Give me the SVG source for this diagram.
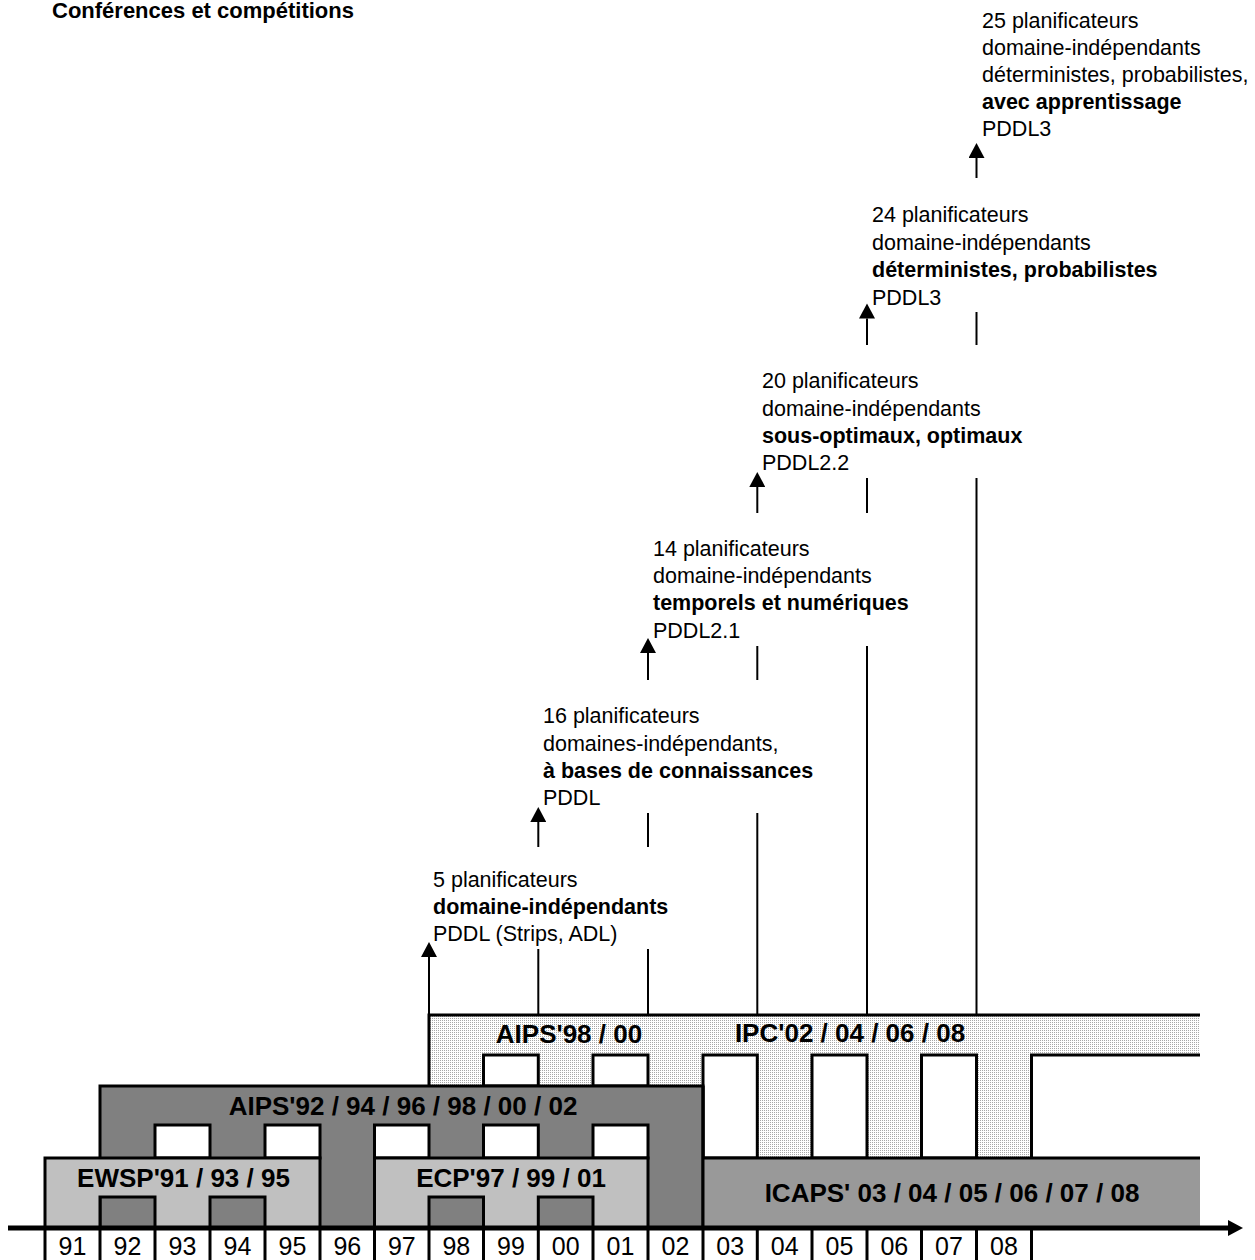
<svg xmlns="http://www.w3.org/2000/svg" width="1255" height="1260" viewBox="0 0 1255 1260">
<style>
  text { font-family: "Liberation Sans", Arial, sans-serif; fill: #000; }
  .title { font-size: 22px; font-weight: bold; }
  .ann { font-size: 21.5px; }
  .b { font-weight: bold; }
  .boxlbl { font-size: 26px; font-weight: bold; text-anchor: middle; }
  .year { font-size: 25px; text-anchor: middle; }
  .out { stroke: #000; stroke-width: 3; stroke-linejoin: miter; }
  .white { fill: #fff; }
  .conn { stroke: #000; stroke-width: 2; fill: none; }
  .cell { stroke: #000; stroke-width: 3; }
</style>
<defs>
  <pattern id="stip" width="2" height="2" patternUnits="userSpaceOnUse">
    <rect width="2" height="2" fill="#ffffff"/>
    <rect width="1" height="1" fill="#a8a8a8"/>
  </pattern>
  <marker id="up" markerUnits="userSpaceOnUse" markerWidth="16" markerHeight="16" viewBox="0 0 15 16" refX="0" refY="8" orient="auto">
    <path d="M0,0 L15,8 L0,16 Z" fill="#000"/>
  </marker>
  <marker id="axisArrow" markerUnits="userSpaceOnUse" markerWidth="16" markerHeight="16" viewBox="0 0 15 16" refX="0" refY="8" orient="auto">
    <path d="M0,0 L15,8 L0,16 Z" fill="#000"/>
  </marker>
</defs>

<text class="title" x="52" y="18">Conférences et compétitions</text>

<g id="ipc">
  <rect x="429" y="1015" width="771" height="143" fill="url(#stip)"/>
  <path class="out" d="M429,1086 V1015 H1200" fill="none"/>
  <rect class="out white" x="483.5" y="1055" width="54.8" height="31"/>
  <rect class="out white" x="593" y="1055" width="55" height="31"/>
  <rect class="out white" x="703" y="1055" width="54.3" height="103"/>
  <rect class="out white" x="812" y="1055" width="55" height="103"/>
  <rect class="out white" x="921.5" y="1055" width="55" height="103"/>
  <rect x="1031.5" y="1055" width="168.5" height="103" fill="#fff"/>
  <path class="out" d="M1031.5,1158 V1055 H1200" fill="none"/>
  <text class="boxlbl" x="569" y="1043">AIPS'98 / 00</text>
  <text class="boxlbl" x="850" y="1042">IPC'02 / 04 / 06 / 08</text>
</g>

<g id="aips92">
  <rect class="out" x="100" y="1086" width="603" height="142" fill="#808080"/>
  <rect class="out white" x="155" y="1125" width="55" height="33"/>
  <rect class="out white" x="265" y="1125" width="55" height="33"/>
  <rect class="out white" x="374.5" y="1125" width="54.5" height="33"/>
  <rect class="out white" x="483.5" y="1125" width="54.8" height="33"/>
  <rect class="out white" x="593" y="1125" width="55" height="33"/>
  <text class="boxlbl" x="403" y="1115">AIPS'92 / 94 / 96 / 98 / 00 / 02</text>
</g>

<g id="icaps">
  <rect x="703" y="1158" width="497" height="70" fill="#999999"/>
  <path class="out" d="M703,1158 H1200" fill="none"/>
  <path class="out" d="M703,1086 V1228" fill="none"/>
  <text class="boxlbl" x="952" y="1202">ICAPS' 03 / 04 / 05 / 06 / 07 / 08</text>
</g>

<g id="ewsp">
  <path class="out" d="M45,1228 V1158 H320 V1228 H265 V1197 H210 V1228 H155 V1197 H100 V1228 Z" fill="#c0c0c0"/>
  <text class="boxlbl" x="183.5" y="1187">EWSP'91 / 93 / 95</text>
</g>

<g id="ecp">
  <path class="out" d="M374.5,1228 V1158 H648 V1228 H593 V1197 H538.3 V1228 H483.5 V1197 H429 V1228 Z" fill="#c0c0c0"/>
  <text class="boxlbl" x="511" y="1187">ECP'97 / 99 / 01</text>
</g>

<g id="timeline">
  <line x1="8" y1="1228" x2="1228" y2="1228" stroke="#000" stroke-width="5" marker-end="url(#axisArrow)"/>
  <g class="cell">
    <line x1="45" y1="1228" x2="45" y2="1260"/>
    <line x1="100" y1="1228" x2="100" y2="1260"/>
    <line x1="155" y1="1228" x2="155" y2="1260"/>
    <line x1="210" y1="1228" x2="210" y2="1260"/>
    <line x1="265" y1="1228" x2="265" y2="1260"/>
    <line x1="320" y1="1228" x2="320" y2="1260"/>
    <line x1="374.5" y1="1228" x2="374.5" y2="1260"/>
    <line x1="429" y1="1228" x2="429" y2="1260"/>
    <line x1="483.5" y1="1228" x2="483.5" y2="1260"/>
    <line x1="538.3" y1="1228" x2="538.3" y2="1260"/>
    <line x1="593" y1="1228" x2="593" y2="1260"/>
    <line x1="648" y1="1228" x2="648" y2="1260"/>
    <line x1="703" y1="1228" x2="703" y2="1260"/>
    <line x1="757.3" y1="1228" x2="757.3" y2="1260"/>
    <line x1="812" y1="1228" x2="812" y2="1260"/>
    <line x1="867" y1="1228" x2="867" y2="1260"/>
    <line x1="921.5" y1="1228" x2="921.5" y2="1260"/>
    <line x1="976.5" y1="1228" x2="976.5" y2="1260"/>
    <line x1="1031.5" y1="1228" x2="1031.5" y2="1260"/>
  </g>
  <text class="year" x="72.5" y="1255">91</text>
  <text class="year" x="127.5" y="1255">92</text>
  <text class="year" x="182.5" y="1255">93</text>
  <text class="year" x="237.5" y="1255">94</text>
  <text class="year" x="292.5" y="1255">95</text>
  <text class="year" x="347.3" y="1255">96</text>
  <text class="year" x="401.8" y="1255">97</text>
  <text class="year" x="456.3" y="1255">98</text>
  <text class="year" x="510.9" y="1255">99</text>
  <text class="year" x="565.7" y="1255">00</text>
  <text class="year" x="620.5" y="1255">01</text>
  <text class="year" x="675.5" y="1255">02</text>
  <text class="year" x="730.2" y="1255">03</text>
  <text class="year" x="784.7" y="1255">04</text>
  <text class="year" x="839.5" y="1255">05</text>
  <text class="year" x="894.3" y="1255">06</text>
  <text class="year" x="949" y="1255">07</text>
  <text class="year" x="1004" y="1255">08</text>
</g>

<g id="comp98">
  <text class="ann" x="433" y="887">5 planificateurs</text>
  <text class="ann b" x="433" y="914">domaine-indépendants</text>
  <text class="ann" x="433" y="941">PDDL (Strips, ADL)</text>
</g>
<g id="comp00">
  <text class="ann" x="543" y="723">16 planificateurs</text>
  <text class="ann" x="543" y="750.5">domaines-indépendants,</text>
  <text class="ann b" x="543" y="777.5">à bases de connaissances</text>
  <text class="ann" x="543" y="805">PDDL</text>
</g>
<g id="comp02">
  <text class="ann" x="653" y="555.5">14 planificateurs</text>
  <text class="ann" x="653" y="582.5">domaine-indépendants</text>
  <text class="ann b" x="653" y="610">temporels et numériques</text>
  <text class="ann" x="653" y="637.5">PDDL2.1</text>
</g>
<g id="comp04">
  <text class="ann" x="762" y="388">20 planificateurs</text>
  <text class="ann" x="762" y="415.5">domaine-indépendants</text>
  <text class="ann b" x="762" y="443">sous-optimaux, optimaux</text>
  <text class="ann" x="762" y="470">PDDL2.2</text>
</g>
<g id="comp06">
  <text class="ann" x="872" y="222">24 planificateurs</text>
  <text class="ann" x="872" y="249.5">domaine-indépendants</text>
  <text class="ann b" x="872" y="277">déterministes, probabilistes</text>
  <text class="ann" x="872" y="304.5">PDDL3</text>
</g>
<g id="comp08">
  <text class="ann" x="982" y="28">25 planificateurs</text>
  <text class="ann" x="982" y="55">domaine-indépendants</text>
  <text class="ann" x="982" y="82">déterministes, probabilistes,</text>
  <text class="ann b" x="982" y="108.5">avec apprentissage</text>
  <text class="ann" x="982" y="135.5">PDDL3</text>
</g>

<g id="connectors">
  <line class="conn" x1="429" y1="1015" x2="429" y2="957" marker-end="url(#up)"/>
  <line class="conn" x1="538.3" y1="1015" x2="538.3" y2="949"/>
  <line class="conn" x1="538.3" y1="847" x2="538.3" y2="822" marker-end="url(#up)"/>
  <line class="conn" x1="648" y1="1015" x2="648" y2="949"/>
  <line class="conn" x1="648" y1="847" x2="648" y2="813"/>
  <line class="conn" x1="648" y1="680" x2="648" y2="653" marker-end="url(#up)"/>
  <line class="conn" x1="757.3" y1="1015" x2="757.3" y2="813"/>
  <line class="conn" x1="757.3" y1="680" x2="757.3" y2="646"/>
  <line class="conn" x1="757.3" y1="513" x2="757.3" y2="487" marker-end="url(#up)"/>
  <line class="conn" x1="867" y1="1015" x2="867" y2="646"/>
  <line class="conn" x1="867" y1="513" x2="867" y2="478"/>
  <line class="conn" x1="867" y1="345" x2="867" y2="318.5" marker-end="url(#up)"/>
  <line class="conn" x1="976.5" y1="1015" x2="976.5" y2="478"/>
  <line class="conn" x1="976.5" y1="345" x2="976.5" y2="312"/>
  <line class="conn" x1="976.5" y1="178" x2="976.5" y2="158" marker-end="url(#up)"/>
</g>
</svg>
